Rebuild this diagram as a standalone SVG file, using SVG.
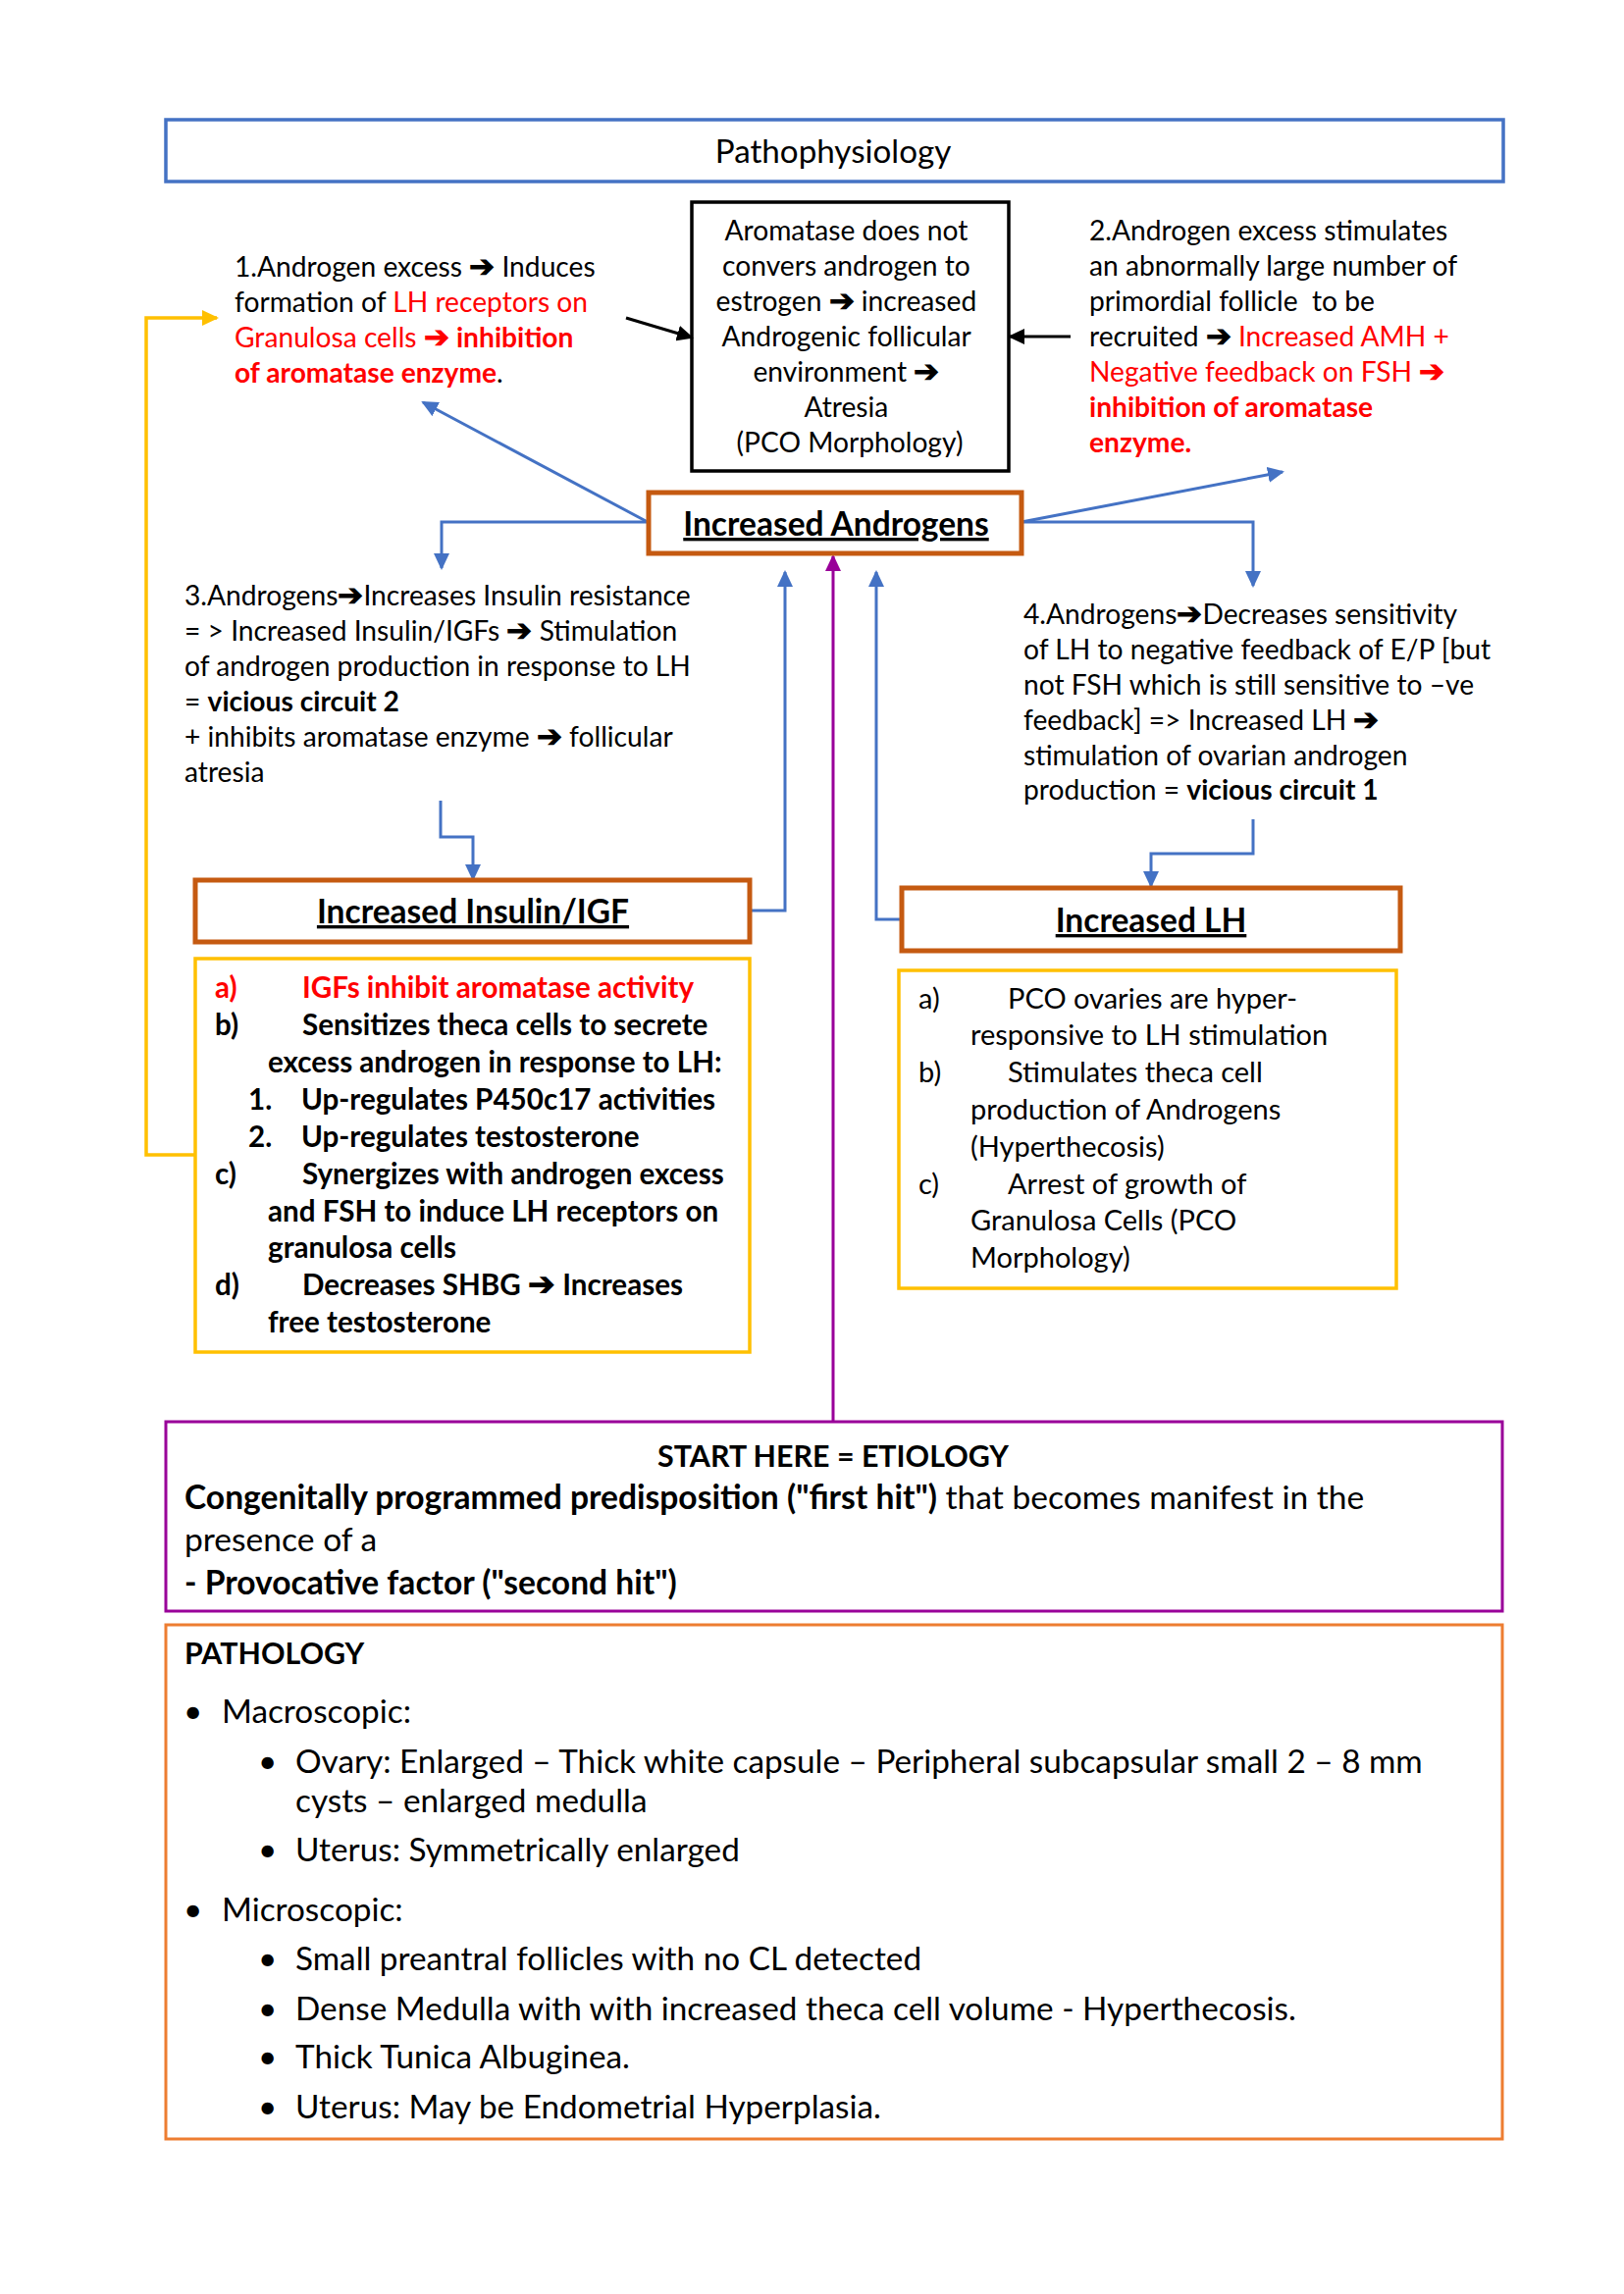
<svg xmlns="http://www.w3.org/2000/svg" width="1655" height="2338" viewBox="0 0 1655 2338">
<style>
  text { font-family: Lato, "Open Sans", sans-serif; fill: #000; }
  .t { font-size: 28.2px; }
  .b { font-weight: bold; }
  .r { fill: #FF0000; }
  .ar { font-size: 1.1em; font-weight: bold; }
  .h { font-size: 33.5px; font-weight: bold; text-decoration: underline; }
  .lb { font-size: 29.6px; font-weight: bold; }
  .lr { font-size: 29px; }
  .big { font-size: 33.6px; }
  .pt { font-size: 33.3px; }
  .hd { font-size: 30.4px; font-weight: bold; }
  .ttl { font-size: 33.2px; }
  .blue { stroke: #4472C4; stroke-width: 3; fill: none; }
  .blk { stroke: #000; stroke-width: 3; fill: none; }
</style>
<defs>
  <marker id="ab" markerUnits="userSpaceOnUse" markerWidth="18" markerHeight="16" refX="15" refY="8" orient="auto">
    <path d="M0,0 L17,8 L0,16 z" fill="#4472C4"/>
  </marker>
  <marker id="ak" markerUnits="userSpaceOnUse" markerWidth="18" markerHeight="16" refX="15" refY="8" orient="auto">
    <path d="M0,0 L17,8 L0,16 z" fill="#000"/>
  </marker>
  <marker id="ay" markerUnits="userSpaceOnUse" markerWidth="18" markerHeight="16" refX="15" refY="8" orient="auto">
    <path d="M0,0 L17,8 L0,16 z" fill="#FFC000"/>
  </marker>
  <marker id="ap" markerUnits="userSpaceOnUse" markerWidth="18" markerHeight="16" refX="15" refY="8" orient="auto">
    <path d="M0,0 L17,8 L0,16 z" fill="#990099"/>
  </marker>
</defs>
<rect width="1655" height="2338" fill="#fff"/>

<g id="connectors">
  <path class="blk" d="M638 324 L705 344" marker-end="url(#ak)"/>
  <path class="blk" d="M1091 343 L1029 343" marker-end="url(#ak)"/>
  <path class="blue" d="M660 532 L431 410" marker-end="url(#ab)"/>
  <path class="blue" d="M661 532 H450 V579" marker-end="url(#ab)"/>
  <path class="blue" d="M1041 532 L1307 481" marker-end="url(#ab)"/>
  <path class="blue" d="M1041 532 H1277 V597" marker-end="url(#ab)"/>
  <path class="blue" d="M449 816 V853 H482 V896" marker-end="url(#ab)"/>
  <path class="blue" d="M1277 835 V870 H1173 V903" marker-end="url(#ab)"/>
  <path class="blue" d="M764 928 H800 V583" marker-end="url(#ab)"/>
  <path class="blue" d="M918 937 H893 V583" marker-end="url(#ab)"/>
  <path d="M849 1448 V567" stroke="#990099" stroke-width="3" fill="none" marker-end="url(#ap)"/>
  <path d="M198 1177 H149 V324 H221" stroke="#FFC000" stroke-width="3.5" fill="none" marker-end="url(#ay)"/>
</g>

<g id="title">
  <rect x="169" y="122" width="1363" height="63" fill="none" stroke="#4472C4" stroke-width="3.5"/>
  <text class="ttl" x="849" y="166" text-anchor="middle">Pathophysiology</text>
</g>

<g id="note1">
  <text class="t" x="239" y="282">1.Androgen excess <tspan class="ar">➔</tspan> Induces</text>
  <text class="t" x="239" y="318">formation of <tspan class="r">LH receptors on</tspan></text>
  <text class="t" x="239" y="354"><tspan class="r">Granulosa cells </tspan><tspan class="r ar">➔</tspan><tspan class="r"> </tspan><tspan class="r b">inhibition</tspan></text>
  <text class="t" x="239" y="390"><tspan class="r b">of aromatase enzyme</tspan>.</text>
</g>

<g id="aromatase">
  <rect x="705" y="206" width="323" height="274" fill="none" stroke="#000" stroke-width="3.5"/>
  <text class="t" text-anchor="middle">
    <tspan x="866" y="245">Aromatase does not</tspan>
    <tspan x="866" y="281">convers androgen to</tspan>
    <tspan x="866" y="317">estrogen <tspan class="ar">➔</tspan> increased</tspan>
    <tspan x="866" y="353">Androgenic follicular</tspan>
    <tspan x="866" y="389">environment <tspan class="ar">➔</tspan></tspan>
    <tspan x="866" y="425">Atresia</tspan>
    <tspan x="866" y="461">(PCO Morphology)</tspan>
  </text>
</g>

<g id="note2">
  <text class="t" x="1110" y="245">2.Androgen excess stimulates</text>
  <text class="t" x="1110" y="281">an abnormally large number of</text>
  <text class="t" x="1110" y="317" xml:space="preserve">primordial follicle  to be</text>
  <text class="t" x="1110" y="353">recruited <tspan class="ar">➔</tspan> <tspan class="r">Increased AMH +</tspan></text>
  <text class="t r" x="1110" y="389">Negative feedback on FSH <tspan class="ar">➔</tspan></text>
  <text class="t r b" x="1110" y="425">inhibition of aromatase</text>
  <text class="t r b" x="1110" y="461">enzyme.</text>
</g>

<g id="androgens">
  <rect x="661" y="502" width="380" height="62" fill="#fff" stroke="#C55A11" stroke-width="5"/>
  <text class="h" x="852" y="546" text-anchor="middle">Increased Androgens</text>
</g>

<g id="note3">
  <text class="t" x="188" y="617">3.Androgens<tspan class="ar">➔</tspan>Increases Insulin resistance</text>
  <text class="t" x="188" y="653">= &gt; Increased Insulin/IGFs <tspan class="ar">➔</tspan> Stimulation</text>
  <text class="t" x="188" y="689">of androgen production in response to LH</text>
  <text class="t" x="188" y="725">= <tspan class="b">vicious circuit 2</tspan></text>
  <text class="t" x="188" y="761">+ inhibits aromatase enzyme <tspan class="ar">➔</tspan> follicular</text>
  <text class="t" x="188" y="797">atresia</text>
</g>

<g id="note4">
  <text class="t" x="1043" y="636">4.Androgens<tspan class="ar">➔</tspan>Decreases sensitivity</text>
  <text class="t" x="1043" y="672">of LH to negative feedback of E/P [but</text>
  <text class="t" x="1043" y="708">not FSH which is still sensitive to –ve</text>
  <text class="t" x="1043" y="744">feedback] =&gt; Increased LH <tspan class="ar">➔</tspan></text>
  <text class="t" x="1043" y="780">stimulation of ovarian androgen</text>
  <text class="t" x="1043" y="815">production = <tspan class="b">vicious circuit 1</tspan></text>
</g>

<g id="insulin">
  <rect x="199" y="897" width="565" height="63" fill="#fff" stroke="#C55A11" stroke-width="5"/>
  <text class="h" x="482" y="941" text-anchor="middle">Increased Insulin/IGF</text>
</g>

<g id="insulin-effects">
  <rect x="199" y="977" width="565" height="401" fill="none" stroke="#FFC000" stroke-width="3.5"/>
  <text class="lb r" x="219" y="1017">a)</text>
  <text class="lb r" x="308" y="1017">IGFs inhibit aromatase activity</text>
  <text class="lb" x="219" y="1055">b)</text>
  <text class="lb" x="308" y="1055">Sensitizes theca cells to secrete</text>
  <text class="lb" x="273" y="1093">excess androgen in response to LH:</text>
  <text class="lb" x="253" y="1131">1.</text>
  <text class="lb" x="307" y="1131">Up-regulates P450c17 activities</text>
  <text class="lb" x="253" y="1169">2.</text>
  <text class="lb" x="307" y="1169">Up-regulates testosterone</text>
  <text class="lb" x="219" y="1207">c)</text>
  <text class="lb" x="308" y="1207">Synergizes with androgen excess</text>
  <text class="lb" x="273" y="1245">and FSH to induce LH receptors on</text>
  <text class="lb" x="273" y="1282">granulosa cells</text>
  <text class="lb" x="219" y="1320">d)</text>
  <text class="lb" x="308" y="1320">Decreases SHBG <tspan class="ar">➔</tspan> Increases</text>
  <text class="lb" x="273" y="1358">free testosterone</text>
</g>

<g id="lh">
  <rect x="919" y="905" width="508" height="64" fill="#fff" stroke="#C55A11" stroke-width="5"/>
  <text class="h" x="1173" y="950" text-anchor="middle">Increased LH</text>
</g>

<g id="lh-effects">
  <rect x="916" y="989" width="507" height="324" fill="none" stroke="#FFC000" stroke-width="3.5"/>
  <text class="lr" x="936" y="1028">a)</text>
  <text class="lr" x="1027" y="1028">PCO ovaries are hyper-</text>
  <text class="lr" x="989" y="1065">responsive to LH stimulation</text>
  <text class="lr" x="936" y="1103">b)</text>
  <text class="lr" x="1027" y="1103">Stimulates theca cell</text>
  <text class="lr" x="989" y="1141">production of Androgens</text>
  <text class="lr" x="989" y="1179">(Hyperthecosis)</text>
  <text class="lr" x="936" y="1217">c)</text>
  <text class="lr" x="1027" y="1217">Arrest of growth of</text>
  <text class="lr" x="989" y="1254">Granulosa Cells (PCO</text>
  <text class="lr" x="989" y="1292">Morphology)</text>
</g>

<g id="etiology">
  <rect x="169" y="1449" width="1362" height="193" fill="#fff" stroke="#990099" stroke-width="3"/>
  <text class="hd" x="849" y="1495" text-anchor="middle">START HERE = ETIOLOGY</text>
  <text class="big" x="188" y="1538"><tspan class="b">Congenitally programmed predisposition ("first hit")</tspan> that becomes manifest in the</text>
  <text class="big" x="188" y="1581">presence of a</text>
  <text class="big b" x="188" y="1625">- Provocative factor ("second hit")</text>
</g>

<g id="pathology">
  <rect x="169" y="1656" width="1362" height="524" fill="none" stroke="#ED7D31" stroke-width="3"/>
  <text class="hd" x="188" y="1696">PATHOLOGY</text>
  <text class="pt" x="187" y="1756">•</text>
  <text class="pt" x="226" y="1756">Macroscopic:</text>
  <text class="pt" x="263" y="1807">•</text>
  <text class="pt" x="301" y="1807">Ovary: Enlarged – Thick white capsule – Peripheral subcapsular small 2 – 8 mm</text>
  <text class="pt" x="301" y="1847">cysts – enlarged medulla</text>
  <text class="pt" x="263" y="1897">•</text>
  <text class="pt" x="301" y="1897">Uterus: Symmetrically enlarged</text>
  <text class="pt" x="187" y="1958">•</text>
  <text class="pt" x="226" y="1958">Microscopic:</text>
  <text class="pt" x="263" y="2008">•</text>
  <text class="pt" x="301" y="2008">Small preantral follicles with no CL detected</text>
  <text class="pt" x="263" y="2059">•</text>
  <text class="pt" x="301" y="2059">Dense Medulla with with increased theca cell volume - Hyperthecosis.</text>
  <text class="pt" x="263" y="2108">•</text>
  <text class="pt" x="301" y="2108">Thick Tunica Albuginea.</text>
  <text class="pt" x="263" y="2159">•</text>
  <text class="pt" x="301" y="2159">Uterus: May be Endometrial Hyperplasia.</text>
</g>
</svg>
